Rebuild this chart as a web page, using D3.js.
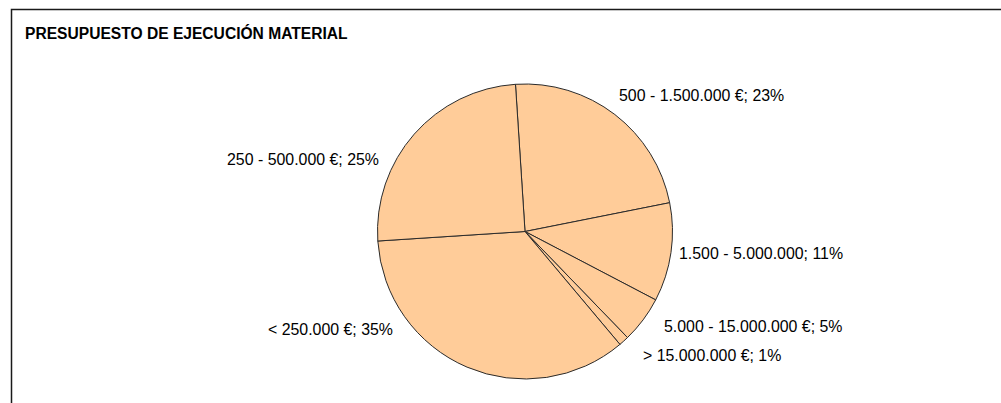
<!DOCTYPE html>
<html><head><meta charset="utf-8">
<script src="https://cdn.jsdelivr.net/npm/d3@7"></script>
<style>html,body{margin:0;padding:0;background:#fff;}svg{display:block;}</style>
</head><body>
<svg id="c" width="1001" height="403"></svg>
<script>
const title = "PRESUPUESTO DE EJECUCIÓN MATERIAL";
const categories = ["500 - 1.500.000 €", "1.500 - 5.000.000", "5.000 - 15.000.000 €", "> 15.000.000 €", "< 250.000 €", "250 - 500.000 €"];
const values = [22.9, 10.8, 5.1, 1.1, 35.1, 25.0];
const percentLabels = ["23%", "11%", "5%", "1%", "35%", "25%"];

const svg = d3.select("#c");
const cx = 525, cy = 231.5, r = 147.5;
const fontSize = 15.9;

// frame
svg.append("path")
  .attr("d", "M11.5,403 L11.5,9.5 L1001,9.5")
  .attr("fill", "none").attr("stroke", "#1a1a1a").attr("stroke-width", 1.5);

svg.append("text").attr("x", 25).attr("y", 38.5)
  .attr("font-family", "Liberation Sans, Arial, sans-serif")
  .attr("font-weight", "bold").attr("font-size", 15.6).attr("fill", "#000")
  .text(title);

const start = -3.7 * Math.PI / 180;
const pie = d3.pie().sort(null).value(d => d).startAngle(start).endAngle(start + 2 * Math.PI);
const arcs = pie(values);
const arc = d3.arc().innerRadius(0).outerRadius(r);

const g = svg.append("g").attr("transform", `translate(${cx},${cy})`);
g.selectAll("path").data(arcs).join("path")
  .attr("d", arc)
  .attr("fill", "#ffcc99")
  .attr("stroke", "#2b2b2b").attr("stroke-width", 1);

const labelPos = [
  {dx: 94, dy: -136, anchor: "start"},
  {dx: 154, dy: 22, anchor: "start"},
  {dx: 139, dy: 95, anchor: "start"},
  {dx: 118, dy: 124, anchor: "start"},
  {dx: -132, dy: 98, anchor: "end"},
  {dx: -146, dy: -72, anchor: "end"}
];
g.selectAll("text.lbl").data(arcs).join("text")
  .attr("class", "lbl")
  .attr("x", (d, i) => labelPos[i].dx)
  .attr("y", (d, i) => labelPos[i].dy)
  .attr("dy", "0.35em")
  .attr("text-anchor", (d, i) => labelPos[i].anchor)
  .attr("font-family", "Liberation Sans, Arial, sans-serif")
  .attr("font-size", fontSize).attr("fill", "#000")
  .text((d, i) => categories[i] + "; " + percentLabels[i]);
</script>
</body></html>
